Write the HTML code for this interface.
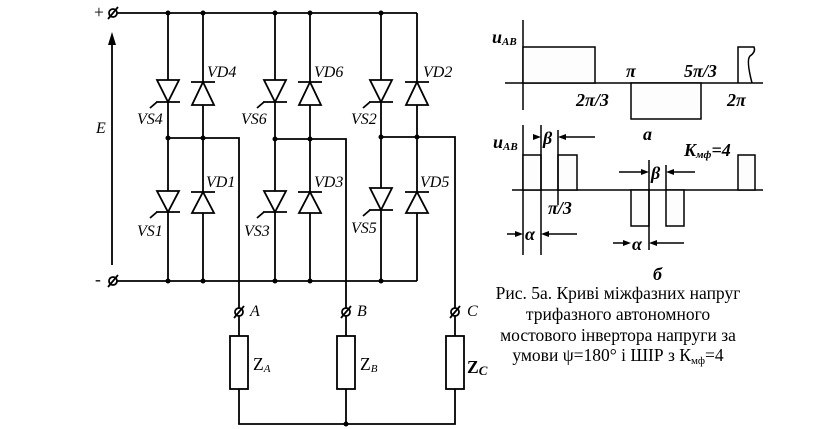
<!DOCTYPE html>
<html><head><meta charset="utf-8"><style>
html,body{margin:0;padding:0;background:#fff;width:835px;height:429px;overflow:hidden}
svg{display:block}
.t{font-family:"Liberation Serif",serif;font-style:italic;font-size:16px;fill:#000}
.b{font-family:"Liberation Serif",serif;font-weight:bold;font-style:italic;font-size:18px;fill:#000}
.c{font-family:"Liberation Serif",serif;font-size:17.5px;fill:#000}
</style></head><body>
<svg width="835" height="429" viewBox="0 0 835 429" xmlns="http://www.w3.org/2000/svg">
<g stroke="#000" stroke-width="1.8" fill="none">
<line x1="117" y1="13" x2="417" y2="13"/>
<line x1="117" y1="281" x2="417" y2="281"/>
<line x1="168" y1="13" x2="168" y2="281"/>
<line x1="203" y1="13" x2="203" y2="281"/>
<line x1="275" y1="13" x2="275" y2="281"/>
<line x1="310" y1="13" x2="310" y2="281"/>
<line x1="381" y1="13" x2="381" y2="281"/>
<line x1="417" y1="13" x2="417" y2="281"/>
<polyline points="168,138 239,138 239,308"/>
<polyline points="275,139 346,139 346,308"/>
<polyline points="381,137 455,137 455,308"/>
<line x1="239" y1="316" x2="239" y2="336"/>
<line x1="346" y1="316" x2="346" y2="336"/>
<line x1="455" y1="316" x2="455" y2="336"/>
<rect x="230" y="336" width="18" height="53" fill="#fff"/>
<rect x="337" y="336" width="18" height="53" fill="#fff"/>
<rect x="446" y="336" width="18" height="53" fill="#fff"/>
<polyline points="239,389 239,424 455,424 455,389"/>
<line x1="346" y1="389" x2="346" y2="424"/>
<circle cx="113" cy="13" r="4"/><line x1="108" y1="19" x2="118" y2="7"/>
<circle cx="113" cy="281" r="4"/><line x1="108" y1="287" x2="118" y2="275"/>
<circle cx="239" cy="312" r="4"/><line x1="234" y1="318" x2="244" y2="306"/>
<circle cx="346" cy="312" r="4"/><line x1="341" y1="318" x2="351" y2="306"/>
<circle cx="455" cy="312" r="4"/><line x1="450" y1="318" x2="460" y2="306"/>
<line x1="112" y1="265" x2="112" y2="40"/>
</g>
<polygon points="112,32 108,45 116,45" fill="#000"/>
<g stroke="#000" stroke-width="1.8" fill="#fff">
<polygon points="157,80 179,80 168,102"/><line x1="156" y1="102" x2="180" y2="102"/><line x1="157" y1="102" x2="150" y2="108"/>
<polygon points="264,80 286,80 275,102"/><line x1="263" y1="102" x2="287" y2="102"/><line x1="264" y1="102" x2="257" y2="108"/>
<polygon points="370,80 392,80 381,102"/><line x1="369" y1="102" x2="393" y2="102"/><line x1="370" y1="102" x2="363" y2="108"/>
<polygon points="157,191 179,191 168,212"/><line x1="156" y1="212" x2="180" y2="212"/><line x1="157" y1="212" x2="150" y2="218"/>
<polygon points="264,191 286,191 275,212"/><line x1="263" y1="212" x2="287" y2="212"/><line x1="264" y1="212" x2="257" y2="218"/>
<polygon points="370,188 392,188 381,210"/><line x1="369" y1="210" x2="393" y2="210"/><line x1="370" y1="210" x2="363" y2="216"/>
<polygon points="192,105 214,105 203,82"/><line x1="191" y1="82" x2="215" y2="82"/>
<polygon points="299,105 321,105 310,82"/><line x1="298" y1="82" x2="322" y2="82"/>
<polygon points="406,105 428,105 417,82"/><line x1="405" y1="82" x2="429" y2="82"/>
<polygon points="192,213 214,213 203,192"/><line x1="191" y1="192" x2="215" y2="192"/>
<polygon points="299,213 321,213 310,192"/><line x1="298" y1="192" x2="322" y2="192"/>
<polygon points="406,213 428,213 417,192"/><line x1="405" y1="192" x2="429" y2="192"/>
</g>
<g fill="#000">
<circle cx="168" cy="13" r="2.5"/><circle cx="203" cy="13" r="2.5"/><circle cx="275" cy="13" r="2.5"/><circle cx="310" cy="13" r="2.5"/><circle cx="381" cy="13" r="2.5"/>
<circle cx="168" cy="281" r="2.5"/><circle cx="203" cy="281" r="2.5"/><circle cx="275" cy="281" r="2.5"/><circle cx="310" cy="281" r="2.5"/><circle cx="381" cy="281" r="2.5"/>
<circle cx="168" cy="138" r="2.5"/><circle cx="203" cy="138" r="2.5"/><circle cx="275" cy="139" r="2.5"/><circle cx="310" cy="139" r="2.5"/><circle cx="381" cy="137" r="2.5"/><circle cx="417" cy="137" r="2.5"/>
<circle cx="346" cy="424" r="2.5"/>
</g>
<text x="94" y="18" class="c" font-size="14">+</text>
<text x="95" y="285" class="c" font-size="14">-</text>
<text x="96" y="133" class="t">E</text>
<text x="207" y="77" class="t">VD4</text><text x="314" y="77" class="t">VD6</text><text x="423" y="77" class="t">VD2</text>
<text x="206" y="187" class="t">VD1</text><text x="314" y="187" class="t">VD3</text><text x="420" y="187" class="t">VD5</text>
<text x="137" y="124" class="t">VS4</text><text x="241" y="124" class="t">VS6</text><text x="351" y="124" class="t">VS2</text>
<text x="137" y="236" class="t">VS1</text><text x="244" y="236" class="t">VS3</text><text x="351" y="233" class="t">VS5</text>
<text x="250" y="316" class="t">A</text><text x="357" y="316" class="t">B</text><text x="467" y="316" class="t">C</text>
<text x="253" y="370" class="c" font-size="14">Z<tspan font-size="11" font-style="italic" dy="2">A</tspan></text>
<text x="360" y="370" class="c" font-size="14">Z<tspan font-size="11" font-style="italic" dy="2">B</tspan></text>
<text x="467" y="373" class="c" font-weight="bold" font-size="19">Z<tspan font-size="13" font-style="italic" dy="2">C</tspan></text>
<g stroke="#000" stroke-width="1.5" fill="#fdfdfd">
<line x1="505" y1="83" x2="763" y2="83"/>
<line x1="523" y1="20" x2="523" y2="110"/>
<rect x="523" y="47" width="72" height="36"/>
<rect x="631" y="83" width="70" height="36"/>
<path d="M738,83 V47 H754 Q756,52 750,56 Q746,60 752,83" fill="none"/>
<line x1="512" y1="190" x2="763" y2="190"/>
<line x1="523" y1="125" x2="523" y2="255"/>
<rect x="523" y="155" width="18" height="35"/>
<rect x="558" y="155" width="19" height="35"/>
<rect x="631" y="190" width="18" height="36"/>
<rect x="666" y="190" width="18" height="36"/>
<rect x="738" y="155" width="17" height="35"/>
<line x1="541" y1="125" x2="541" y2="255" fill="none"/>
<line x1="558" y1="130" x2="558" y2="205" fill="none"/>
<line x1="649" y1="160" x2="649" y2="250" fill="none"/>
<line x1="666" y1="165" x2="666" y2="190" fill="none"/>
<line x1="563" y1="137" x2="595" y2="137" fill="none"/>
<line x1="507" y1="234" x2="519" y2="234" fill="none"/>
<line x1="545" y1="234" x2="577" y2="234" fill="none"/>
<line x1="619" y1="172" x2="644" y2="172" fill="none"/>
<line x1="671" y1="172" x2="695" y2="172" fill="none"/>
<line x1="613" y1="243" x2="627" y2="243" fill="none"/>
<line x1="653" y1="243" x2="684" y2="243" fill="none"/>
</g>
<g fill="#000">
<polygon points="541,137 533,134 533,140"/>
<polygon points="558,137 566,134 566,140"/>
<polygon points="523,234 515,231 515,237"/>
<polygon points="541,234 549,231 549,237"/>
<polygon points="649,172 641,169 641,175"/>
<polygon points="666,172 674,169 674,175"/>
<polygon points="631,243 623,240 623,246"/>
<polygon points="649,243 657,240 657,246"/>
</g>
<text x="492" y="43" class="b" font-size="16">u<tspan font-size="11" dy="2">AB</tspan></text>
<text x="493" y="148" class="b" font-size="16">u<tspan font-size="11" dy="2">AB</tspan></text>
<text x="576" y="106" class="b">2π/3</text>
<text x="626" y="77" class="b">π</text>
<text x="684" y="77" class="b">5π/3</text>
<text x="727" y="106" class="b">2π</text>
<text x="643" y="140" class="b">a</text>
<text x="543" y="144" class="b">β</text>
<text x="651" y="179" class="b">β</text>
<text x="548" y="214" class="b">π/3</text>
<text x="525" y="240" class="b">α</text>
<text x="632" y="250" class="b">α</text>
<text x="684" y="156" class="b" font-size="17">K<tspan font-size="11" dy="2">мф</tspan><tspan dy="-2">=4</tspan></text>
<text x="653" y="280" class="b">б</text>
<g class="c" text-anchor="middle">
<text x="618" y="299">Рис. 5а. Криві міжфазних напруг</text>
<text x="618" y="320">трифазного автономного</text>
<text x="618" y="341">мостового інвертора напруги за</text>
<text x="618" y="361">умови ψ=180° і ШІР з К<tspan font-size="11" dy="3">мф</tspan><tspan dy="-3">=4</tspan></text>
</g>
</svg>
</body></html>
